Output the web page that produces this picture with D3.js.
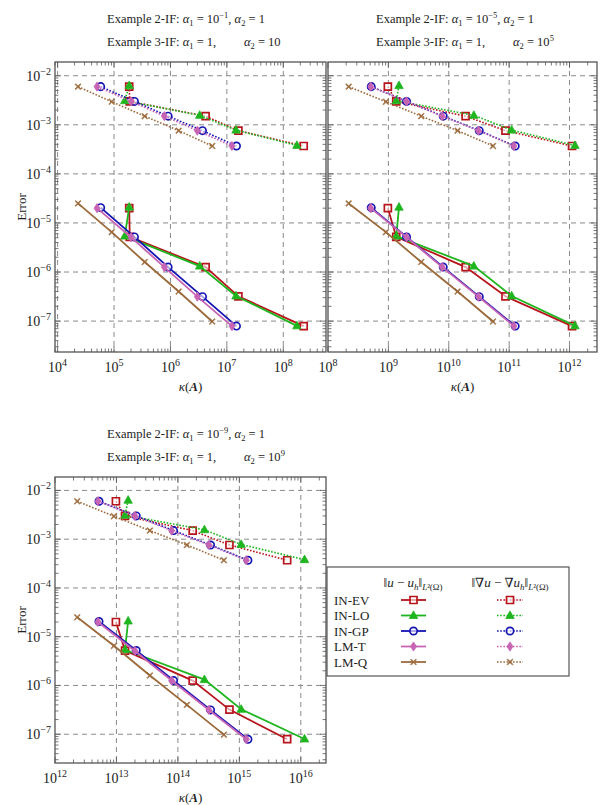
<!DOCTYPE html>
<html>
<head>
<meta charset="utf-8">
<script src="https://d3js.org/d3.v7.min.js"></script>
<style>
  body { margin: 0; background: #fff; }
  text { font-family: "Liberation Serif", "DejaVu Serif", serif; fill: #222; }
</style>
</head>
<body>
<div id="chart"></div>
<script>

// methods, in drawing order
var methods = ["IN-EV", "IN-LO", "IN-GP", "LM-T", "LM-Q"];
var colors  = ["#b8141c", "#1fb51f", "#1414b4", "#c864b4", "#9c6a3a"];
var shapes  = ["square", "triangle", "circle", "diamond", "x"];

// error values per method (same order as methods): L2 error (solid) and gradient error (dotted)
var errL2 = [
  [2.0e-5, 5.2e-6, 1.26e-6, 3.2e-7, 7.9e-8],
  [2.1e-5, 5.4e-6, 1.32e-6, 3.25e-7, 8.0e-8],
  [2.05e-5, 5.2e-6, 1.26e-6, 3.15e-7, 7.9e-8],
  [2.0e-5, 5.1e-6, 1.26e-6, 3.15e-7, 7.9e-8],
  [2.5e-5, 6.5e-6, 1.6e-6, 4.0e-7, 9.8e-8]
];
var errH1 = [
  [6.0e-3, 3.0e-3, 1.5e-3, 7.6e-4, 3.7e-4],
  [6.3e-3, 3.1e-3, 1.56e-3, 7.8e-4, 3.8e-4],
  [6.0e-3, 3.0e-3, 1.5e-3, 7.6e-4, 3.7e-4],
  [6.0e-3, 3.0e-3, 1.5e-3, 7.6e-4, 3.7e-4],
  [6.0e-3, 2.95e-3, 1.5e-3, 7.6e-4, 3.7e-4]
];

// condition numbers kappa(A), one row per method
var kappaA = [
  [1.86e5, 1.9e5, 4.2e6, 1.6e7, 2.3e8],
  [1.86e5, 1.55e5, 3.3e6, 1.45e7, 1.74e8],
  [5.8e4, 2.3e5, 9.1e5, 3.7e6, 1.48e7],
  [5.0e4, 2.0e5, 7.8e5, 3.0e6, 1.23e7],
  [2.3e4, 9.1e4, 3.5e5, 1.4e6, 5.5e6]
];
var kappaB = [
  [9.8e8, 1.35e9, 1.9e10, 8.7e10, 1.1e12],
  [1.5e9, 1.35e9, 2.6e10, 1.1e11, 1.23e12],
  [5.2e8, 2.0e9, 8.1e9, 3.2e10, 1.26e11],
  [5.1e8, 2.0e9, 7.8e9, 3.1e10, 1.2e11],
  [2.2e8, 9.1e8, 3.5e9, 1.4e10, 5.4e10]
];
var kappaC = [
  [9.8e12, 1.38e13, 1.74e14, 6.9e14, 6.0e15],
  [1.55e13, 1.38e13, 2.7e14, 1.07e15, 1.15e16],
  [5.2e12, 2.1e13, 8.5e13, 3.4e14, 1.38e15],
  [5.0e12, 2.0e13, 7.9e13, 3.2e14, 1.3e15],
  [2.3e12, 9.1e12, 3.5e13, 1.4e14, 5.6e14]
];

// panel titles: [alpha1 exponent of example 2, alpha2 exponent of example 3]
var titleA = ["−1", ""];
var titleB = ["−5", "5"];
var titleC = ["−9", "9"];

var W = 600, H = 805;
var svg = d3.select("#chart").append("svg")
  .attr("width", W).attr("height", H);

var panels = [
  { kappa: kappaA, xd: [3.954, 8.757], x0: 55, x1: 326, y0: 62, y1: 352, yd: [-7.63, -1.72], ylab: true, title: titleA, tx: 107, ty: 23 },
  { kappa: kappaB, xd: [8.0, 12.455], x0: 328, x1: 597, y0: 62, y1: 352, yd: [-7.63, -1.72], ylab: false, title: titleB, tx: 376, ty: 23 },
  { kappa: kappaC, xd: [12.0, 16.41], x0: 55, x1: 326, y0: 477, y1: 763, yd: [-7.59, -1.725], ylab: true, title: titleC, tx: 107, ty: 438 }
];

function sup10(sel, exp) {
  sel.append("tspan").text("10");
  sel.append("tspan").attr("dy", -6).style("font-size", "10px").text(exp);
}

function markerPath(shape) {
  if (shape === "square") return "M-3.5,-3.5H3.5V3.5H-3.5Z";
  if (shape === "triangle") return "M0,-4.6L4.2,3L-4.2,3Z";
  if (shape === "circle") return d3.symbol().type(d3.symbolCircle).size(42)();
  if (shape === "diamond") return "M0,-4.6L3,0L0,4.6L-3,0Z";
  return "M-2.4,-3L0,-0.8L2.4,-3L3,-2.4L0.8,0L3,2.4L2.4,3L0,0.8L-2.4,3L-3,2.4L-0.8,0L-3,-2.4Z";
}

function drawMarker(g, shape, color, x, y) {
  var open = (shape === "square" || shape === "circle");
  g.append("path")
    .attr("d", markerPath(shape))
    .attr("transform", "translate(" + x + "," + y + ")")
    .style("fill", open ? "#fff" : color)
    .style("fill-opacity", open ? 0.6 : 1)
    .style("stroke", color)
    .style("stroke-width", open ? 1.7 : (shape === "x" ? 0.6 : 0.8));
}

panels.forEach(function (p) {
  var x = d3.scaleLog().domain([Math.pow(10, p.xd[0]), Math.pow(10, p.xd[1])]).range([p.x0, p.x1]);
  var y = d3.scaleLog().domain([Math.pow(10, p.yd[0]), Math.pow(10, p.yd[1])]).range([p.y1, p.y0]);
  var g = svg.append("g");

  // grid lines at decades
  var xDec = d3.range(Math.ceil(p.xd[0]), Math.floor(p.xd[1]) + 1);
  var yDec = d3.range(Math.ceil(p.yd[0]), Math.floor(p.yd[1]) + 1);
  xDec.forEach(function (k) {
    var px = x(Math.pow(10, k));
    if (px - p.x0 < 2) return;
    g.append("line").attr("x1", px).attr("x2", px).attr("y1", p.y0).attr("y2", p.y1)
      .style("stroke", "#8a8a8a").style("stroke-dasharray", "5,4").style("stroke-width", 1);
  });
  yDec.forEach(function (k) {
    var py = y(Math.pow(10, k));
    g.append("line").attr("x1", p.x0).attr("x2", p.x1).attr("y1", py).attr("y2", py)
      .style("stroke", "#8a8a8a").style("stroke-dasharray", "5,4").style("stroke-width", 1);
  });

  // ticks, inward on all four sides
  var tk = g.append("g").style("stroke", "#555").style("stroke-width", 0.8);
  d3.range(Math.floor(p.xd[0]), Math.ceil(p.xd[1])).forEach(function (k) {
    d3.range(1, 10).forEach(function (m) {
      var v = m * Math.pow(10, k);
      if (Math.log10(v) < p.xd[0] || Math.log10(v) > p.xd[1]) return;
      var px = x(v), len = m === 1 ? 6 : 3.5;
      tk.append("line").attr("x1", px).attr("x2", px).attr("y1", p.y1).attr("y2", p.y1 - len);
      tk.append("line").attr("x1", px).attr("x2", px).attr("y1", p.y0).attr("y2", p.y0 + len);
    });
  });
  d3.range(Math.floor(p.yd[0]), Math.ceil(p.yd[1])).forEach(function (k) {
    d3.range(1, 10).forEach(function (m) {
      var v = m * Math.pow(10, k);
      if (Math.log10(v) < p.yd[0] || Math.log10(v) > p.yd[1]) return;
      var py = y(v), len = m === 1 ? 6 : 3.5;
      tk.append("line").attr("x1", p.x0).attr("x2", p.x0 + len).attr("y1", py).attr("y2", py);
      tk.append("line").attr("x1", p.x1).attr("x2", p.x1 - len).attr("y1", py).attr("y2", py);
    });
  });

  // frame
  g.append("rect").attr("x", p.x0).attr("y", p.y0)
    .attr("width", p.x1 - p.x0).attr("height", p.y1 - p.y0)
    .style("fill", "none").style("stroke", "#555").style("stroke-width", 1.3);

  // x tick labels
  xDec.forEach(function (k) {
    var t = g.append("text").attr("x", x(Math.pow(10, k))).attr("y", p.y1 + 20)
      .attr("text-anchor", "middle").style("font-size", "14px");
    sup10(t, String(k));
  });
  // y tick labels
  if (p.ylab) {
    yDec.forEach(function (k) {
      var t = g.append("text").attr("x", p.x0 - 4).attr("y", y(Math.pow(10, k)) + 5)
        .attr("text-anchor", "end").style("font-size", "14px");
      sup10(t, "−" + (-k));
    });
    g.append("text")
      .attr("transform", "translate(" + 26 + "," + ((p.y0 + p.y1) / 2) + ") rotate(-90)")
      .attr("text-anchor", "middle").style("font-size", "13px").text("Error");
  }

  // x axis label kappa(A)
  var xl = g.append("text").attr("x", (p.x0 + p.x1) / 2).attr("y", p.y1 + 39)
    .attr("text-anchor", "middle").style("font-size", "13px");
  xl.append("tspan").style("font-style", "italic").text("κ");
  xl.append("tspan").text("(");
  xl.append("tspan").style("font-style", "italic").style("font-weight", "bold").text("A");
  xl.append("tspan").text(")");

  // titles
  var t1 = svg.append("text").attr("x", p.tx).attr("y", p.ty).style("font-size", "12.5px");
  t1.append("tspan").text("Example 2-IF: ");
  t1.append("tspan").style("font-style", "italic").text("α");
  t1.append("tspan").attr("dy", 3).style("font-size", "8.5px").text("1");
  t1.append("tspan").attr("dy", -3).text(" = 10");
  t1.append("tspan").attr("dy", -5).style("font-size", "8.5px").text(p.title[0]);
  t1.append("tspan").attr("dy", 5).text(", ");
  t1.append("tspan").style("font-style", "italic").text("α");
  t1.append("tspan").attr("dy", 3).style("font-size", "8.5px").text("2");
  t1.append("tspan").attr("dy", -3).text(" = 1");

  var t2 = svg.append("text").attr("x", p.tx).attr("y", p.ty + 23).style("font-size", "12.5px");
  t2.append("tspan").text("Example 3-IF: ");
  t2.append("tspan").style("font-style", "italic").text("α");
  t2.append("tspan").attr("dy", 3).style("font-size", "8.5px").text("1");
  t2.append("tspan").attr("dy", -3).text(" = 1,");
  t2.append("tspan").attr("x", p.tx + 137).style("font-style", "italic").text("α");
  t2.append("tspan").attr("dy", 3).style("font-size", "8.5px").text("2");
  t2.append("tspan").attr("dy", -3).text(" = 10");
  if (p.title[1]) t2.append("tspan").attr("dy", -5).style("font-size", "8.5px").text(p.title[1]);

  // series
  var line = d3.line().x(function (d) { return x(d[0]); }).y(function (d) { return y(d[1]); });
  var data = g.append("g");
  methods.forEach(function (m, i) {
    var solid = p.kappa[i].map(function (k, j) { return [k, errL2[i][j]]; });
    var dotted = p.kappa[i].map(function (k, j) { return [k, errH1[i][j]]; });
    data.append("path").attr("d", line(solid))
      .style("fill", "none").style("stroke", colors[i]).style("stroke-width", 1.8);
    data.append("path").attr("d", line(dotted))
      .style("fill", "none").style("stroke", colors[i]).style("stroke-width", 1.6)
      .style("stroke-dasharray", "1.6,1.6");
    solid.concat(dotted).forEach(function (d) {
      drawMarker(data, shapes[i], colors[i], x(d[0]), y(d[1]));
    });
  });
});

// legend
var lg = svg.append("g");
lg.append("rect").attr("x", 327).attr("y", 567).attr("width", 242).attr("height", 109)
  .style("fill", "#fff").style("stroke", "#555").style("stroke-width", 1.2);

function normHeader(x, grad) {
  var t = lg.append("text").attr("x", x).attr("y", 587).attr("text-anchor", "middle").style("font-size", "13px");
  t.append("tspan").text("‖");
  if (grad) t.append("tspan").text("∇");
  t.append("tspan").style("font-style", "italic").text("u");
  t.append("tspan").text(" − ");
  if (grad) t.append("tspan").text("∇");
  t.append("tspan").style("font-style", "italic").text("u");
  t.append("tspan").attr("dy", 3).style("font-size", "9px").style("font-style", "italic").text("h");
  t.append("tspan").attr("dy", -3).text("‖");
  t.append("tspan").attr("dy", 3).style("font-size", "9px").style("font-style", "italic").text("L");
  t.append("tspan").style("font-size", "9px").text("²(Ω)");
}
normHeader(413, false);
normHeader(510, true);

var legendY = d3.scalePoint().domain(methods).range([600, 662]);
methods.forEach(function (m, i) {
  var yy = legendY(m);
  lg.append("text").attr("x", 334).attr("y", yy + 4.5).style("font-size", "13px").text(m);
  lg.append("line").attr("x1", 401).attr("x2", 426).attr("y1", yy).attr("y2", yy)
    .style("stroke", colors[i]).style("stroke-width", 1.8);
  drawMarker(lg, shapes[i], colors[i], 413.5, yy);
  lg.append("line").attr("x1", 497).attr("x2", 523).attr("y1", yy).attr("y2", yy)
    .style("stroke", colors[i]).style("stroke-width", 1.6).style("stroke-dasharray", "1.6,1.6");
  drawMarker(lg, shapes[i], colors[i], 510, yy);
});

</script>
</body>
</html>
